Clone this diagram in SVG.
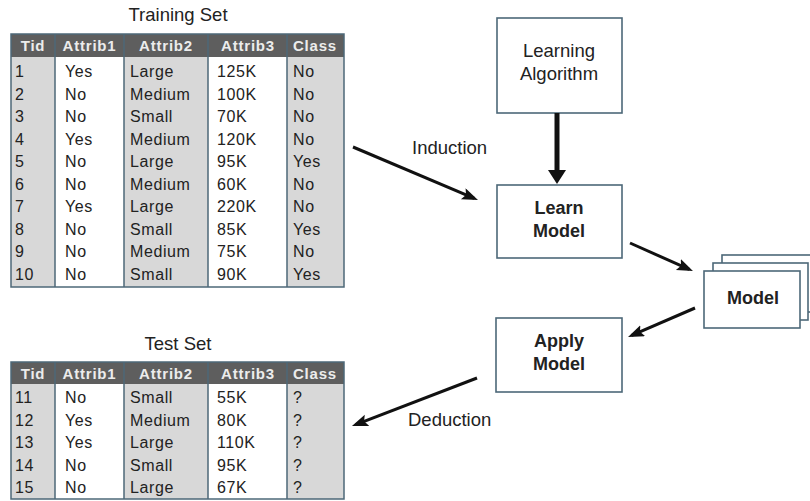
<svg xmlns="http://www.w3.org/2000/svg" width="810" height="501" viewBox="0 0 810 501">
  <defs>
    <style>
      text { font-family: "Liberation Sans", Arial, sans-serif; fill: #222; }
      .title { font-size: 18.5px; text-anchor: middle; }
      .hd { font-size: 15px; font-weight: bold; fill: #ececec; text-anchor: middle; letter-spacing: 0.8px; }
      .cell { font-size: 16px; letter-spacing: 0.6px; }
      .grid { stroke: #4d6878; stroke-width: 1.5; fill: none; }
      .hdbg { fill: #5e5e5e; }
      .gray { fill: #d8d8d8; }
      .white { fill: #ffffff; }
      .box { fill: #ffffff; stroke: #4d6878; stroke-width: 1.6; }
      .lbl { font-size: 18.5px; text-anchor: middle; }
      .blbl { font-size: 18px; font-weight: bold; text-anchor: middle; }
      .edge { stroke: #111; stroke-width: 3; fill: none; marker-end: url(#head); }
      .edgeThick { stroke: #111; stroke-width: 5; fill: none; marker-end: url(#headBig); }
      .elbl { font-size: 18.5px; }
    </style>
    <marker id="head" markerUnits="userSpaceOnUse" markerWidth="18" markerHeight="14" refX="12" refY="6" orient="auto">
      <path d="M0,0 L16,6 L0,12 L3,6 Z" fill="#111"/>
    </marker>
    <marker id="headBig" markerUnits="userSpaceOnUse" markerWidth="16" markerHeight="20" refX="4" refY="9" orient="auto">
      <path d="M0,0 L14,9 L0,18 Z" fill="#111"/>
    </marker>
  </defs>
  <rect width="810" height="501" fill="#ffffff"/>

  <!-- Training set table -->
  <g id="training-set">
    <text class="title" x="178" y="21">Training Set</text>
    <rect class="gray" x="11" y="57" width="44" height="230"/>
    <rect class="white" x="55" y="57" width="69" height="230"/>
    <rect class="gray" x="124" y="57" width="84" height="230"/>
    <rect class="white" x="208" y="57" width="79" height="230"/>
    <rect class="gray" x="287" y="57" width="57" height="230"/>
    <rect class="hdbg" x="11" y="34" width="333" height="23"/>
    <rect class="grid" x="11" y="34" width="333" height="253"/>
    <path class="grid" d="M55,34 V287 M124,34 V287 M208,34 V287 M287,34 V287"/>
    <text class="hd" x="33" y="51">Tid</text>
    <text class="hd" x="89.5" y="51">Attrib1</text>
    <text class="hd" x="166" y="51">Attrib2</text>
    <text class="hd" x="248" y="51">Attrib3</text>
    <text class="hd" x="315" y="51">Class</text>
    <g class="cell">
      <text class="cell" x="15" y="77">1</text><text class="cell" x="65" y="77">Yes</text><text class="cell" x="130" y="77">Large</text><text class="cell" x="217" y="77">125K</text><text class="cell" x="293" y="77">No</text>
      <text class="cell" x="15" y="99.5">2</text><text class="cell" x="65" y="99.5">No</text><text class="cell" x="130" y="99.5">Medium</text><text class="cell" x="217" y="99.5">100K</text><text class="cell" x="293" y="99.5">No</text>
      <text class="cell" x="15" y="122">3</text><text class="cell" x="65" y="122">No</text><text class="cell" x="130" y="122">Small</text><text class="cell" x="217" y="122">70K</text><text class="cell" x="293" y="122">No</text>
      <text class="cell" x="15" y="144.5">4</text><text class="cell" x="65" y="144.5">Yes</text><text class="cell" x="130" y="144.5">Medium</text><text class="cell" x="217" y="144.5">120K</text><text class="cell" x="293" y="144.5">No</text>
      <text class="cell" x="15" y="167">5</text><text class="cell" x="65" y="167">No</text><text class="cell" x="130" y="167">Large</text><text class="cell" x="217" y="167">95K</text><text class="cell" x="293" y="167">Yes</text>
      <text class="cell" x="15" y="189.5">6</text><text class="cell" x="65" y="189.5">No</text><text class="cell" x="130" y="189.5">Medium</text><text class="cell" x="217" y="189.5">60K</text><text class="cell" x="293" y="189.5">No</text>
      <text class="cell" x="15" y="212">7</text><text class="cell" x="65" y="212">Yes</text><text class="cell" x="130" y="212">Large</text><text class="cell" x="217" y="212">220K</text><text class="cell" x="293" y="212">No</text>
      <text class="cell" x="15" y="234.5">8</text><text class="cell" x="65" y="234.5">No</text><text class="cell" x="130" y="234.5">Small</text><text class="cell" x="217" y="234.5">85K</text><text class="cell" x="293" y="234.5">Yes</text>
      <text class="cell" x="15" y="257">9</text><text class="cell" x="65" y="257">No</text><text class="cell" x="130" y="257">Medium</text><text class="cell" x="217" y="257">75K</text><text class="cell" x="293" y="257">No</text>
      <text class="cell" x="15" y="279.5">10</text><text class="cell" x="65" y="279.5">No</text><text class="cell" x="130" y="279.5">Small</text><text class="cell" x="217" y="279.5">90K</text><text class="cell" x="293" y="279.5">Yes</text>
    </g>
  </g>

  <!-- Test set table -->
  <g id="test-set">
    <text class="title" x="178" y="350">Test Set</text>
    <rect class="gray" x="11" y="384" width="44" height="115"/>
    <rect class="white" x="55" y="384" width="69" height="115"/>
    <rect class="gray" x="124" y="384" width="84" height="115"/>
    <rect class="white" x="208" y="384" width="79" height="115"/>
    <rect class="gray" x="287" y="384" width="57" height="115"/>
    <rect class="hdbg" x="11" y="362" width="333" height="22"/>
    <rect class="grid" x="11" y="362" width="333" height="137"/>
    <path class="grid" d="M55,362 V499 M124,362 V499 M208,362 V499 M287,362 V499"/>
    <text class="hd" x="33" y="379">Tid</text>
    <text class="hd" x="89.5" y="379">Attrib1</text>
    <text class="hd" x="166" y="379">Attrib2</text>
    <text class="hd" x="248" y="379">Attrib3</text>
    <text class="hd" x="315" y="379">Class</text>
    <text class="cell" x="15" y="403">11</text><text class="cell" x="65" y="403">No</text><text class="cell" x="130" y="403">Small</text><text class="cell" x="217" y="403">55K</text><text class="cell" x="293" y="403">?</text>
    <text class="cell" x="15" y="425.5">12</text><text class="cell" x="65" y="425.5">Yes</text><text class="cell" x="130" y="425.5">Medium</text><text class="cell" x="217" y="425.5">80K</text><text class="cell" x="293" y="425.5">?</text>
    <text class="cell" x="15" y="448">13</text><text class="cell" x="65" y="448">Yes</text><text class="cell" x="130" y="448">Large</text><text class="cell" x="217" y="448">110K</text><text class="cell" x="293" y="448">?</text>
    <text class="cell" x="15" y="470.5">14</text><text class="cell" x="65" y="470.5">No</text><text class="cell" x="130" y="470.5">Small</text><text class="cell" x="217" y="470.5">95K</text><text class="cell" x="293" y="470.5">?</text>
    <text class="cell" x="15" y="493">15</text><text class="cell" x="65" y="493">No</text><text class="cell" x="130" y="493">Large</text><text class="cell" x="217" y="493">67K</text><text class="cell" x="293" y="493">?</text>
  </g>

  <!-- Process boxes -->
  <g id="learning-algorithm">
    <rect class="box" x="497" y="18" width="125" height="95"/>
    <text class="lbl" x="559" y="57">Learning</text>
    <text class="lbl" x="559" y="80">Algorithm</text>
  </g>
  <g id="learn-model">
    <rect class="box" x="497" y="185" width="125" height="73"/>
    <text class="blbl" x="559" y="214">Learn</text>
    <text class="blbl" x="559" y="237">Model</text>
  </g>
  <g id="model">
    <rect class="box" x="722" y="255" width="100" height="57"/>
    <rect class="box" x="713" y="263" width="95" height="57"/>
    <rect class="box" x="704" y="271" width="96" height="57"/>
    <text class="blbl" x="753" y="304">Model</text>
  </g>
  <g id="apply-model">
    <rect class="box" x="496" y="318" width="126" height="74"/>
    <text class="blbl" x="559" y="347">Apply</text>
    <text class="blbl" x="559" y="370">Model</text>
  </g>

  <!-- Connectors -->
  <g id="connectors">
    <line class="edgeThick" x1="557" y1="113" x2="557" y2="174"/>
    <line class="edge" x1="353" y1="147" x2="474.3" y2="198.4"/>
    <text class="elbl" x="412" y="154">Induction</text>
    <line class="edge" x1="630" y1="243" x2="689.3" y2="269.4"/>
    <line class="edge" x1="695" y1="308" x2="631.7" y2="335.4"/>
    <line class="edge" x1="477" y1="378" x2="355.7" y2="424.6"/>
    <text class="elbl" x="408" y="426">Deduction</text>
  </g>
</svg>
